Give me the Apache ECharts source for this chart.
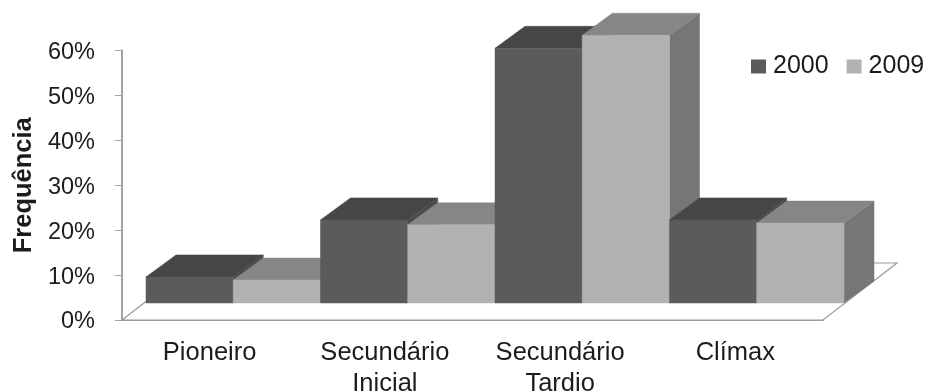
<!DOCTYPE html>
<html>
<head>
<meta charset="utf-8">
<style>html,body{margin:0;padding:0;background:#fff}#chart{width:928px;height:392px}</style>
<script src="https://cdn.jsdelivr.net/npm/echarts@6/dist/echarts.min.js"></script>
</head>
<body>
<div id="chart"></div>
<script>
// Frequency of successional groups, 2000 and 2009 (percent)
const categories = ['Pioneiro', 'Secundário\nInicial', 'Secundário\nTardio', 'Clímax'];
const values2000 = [5.8, 18.5, 56.7, 18.5];
const values2009 = [5.1, 17.4, 59.6, 17.8];
const years = ['2000', '2009'];

const FONT = '"Liberation Sans", Arial, sans-serif';
const TEXT = '#1c1c1c';
const AXIS = '#a3a3a3';

// Oblique projection of the 3D look: how far the bars sit behind the front
// edge of the floor, how deep they are, and how much the row narrows back there.
const INSET = [24, -17];
const DEPTH = [30, -22];
const FLOOR_DEPTH = [74, -57];
const ROW_SCALE = 698 / 701;

const palette = [
  { front: '#5b5b5b', top: '#464646', side: '#4b4b4b' },
  { front: '#b2b2b2', top: '#868686', side: '#767676' }
];

function quad(points, fill, z2) {
  return { type: 'polygon', z2, shape: { points }, style: { fill, stroke: fill, lineWidth: 0.5 } };
}

function barRenderer(seriesIndex) {
  return function (params, api) {
    const cat = api.value(0);
    const base = api.coord([cat, 0]);
    const head = api.coord([cat, api.value(1)]);
    const band = api.size([1, 0])[0];
    const left = params.coordSys.x;
    const w = band / 2 * ROW_SCALE;
    const x0 = left + INSET[0] + (base[0] - band / 2 - left) * ROW_SCALE + seriesIndex * w;
    const x1 = x0 + w;
    const yb = base[1] + INSET[1];
    const yt = head[1] + INSET[1];
    const c = palette[seriesIndex];
    // Painted left to right so nearer neighbours hide each other's side faces
    const z2 = 10 * cat + seriesIndex * 5;
    return {
      type: 'group',
      children: [
        quad([[x1, yb], [x1 + DEPTH[0], yb + DEPTH[1]], [x1 + DEPTH[0], yt + DEPTH[1]], [x1, yt]], c.side, z2),
        quad([[x0, yt], [x1, yt], [x1 + DEPTH[0], yt + DEPTH[1]], [x0 + DEPTH[0], yt + DEPTH[1]]], c.top, z2 + 1),
        quad([[x0, yb], [x1, yb], [x1, yt], [x0, yt]], c.front, z2 + 2)
      ]
    };
  };
}

function floorRenderer(params) {
  const g = params.coordSys;
  const y = g.y + g.height;
  const [dx, dy] = FLOOR_DEPTH;
  return {
    type: 'polygon',
    shape: { points: [[g.x, y], [g.x + g.width, y], [g.x + g.width + dx, y + dy], [g.x + dx, y + dy]] },
    style: { fill: '#ffffff', stroke: '#9a9a9a', lineWidth: 1.2 }
  };
}

const chart = echarts.init(document.getElementById('chart'), null, { renderer: 'canvas' });
chart.setOption({
  animation: false,
  backgroundColor: '#ffffff',
  textStyle: { fontFamily: FONT },
  grid: { left: 122, top: 50.5, width: 701, height: 269.5, containLabel: false, outerBoundsMode: 'none' },
  legend: {
    left: 746, top: 49,
    width: 200,
    padding: [5, 0, 5, 5],
    itemWidth: 15, itemHeight: 14, itemGap: 18,
    icon: 'rect',
    data: years,
    textStyle: { fontFamily: FONT, fontSize: 25, color: TEXT, padding: [0, 0, 0, 2] },
    selectedMode: false
  },
  xAxis: {
    type: 'category',
    data: categories,
    axisLine: { show: true, lineStyle: { color: AXIS, width: 2 } },
    axisTick: { show: false },
    axisLabel: { fontFamily: FONT, fontSize: 25.5, color: TEXT, lineHeight: 31, margin: 17, interval: 0 }
  },
  yAxis: {
    type: 'value',
    min: 0, max: 60, interval: 10,
    name: 'Frequência',
    nameLocation: 'middle',
    nameGap: 84,
    nameTextStyle: { fontFamily: FONT, fontWeight: 'bold', fontSize: 25.5, color: TEXT },
    axisLine: { show: true, lineStyle: { color: AXIS, width: 2 } },
    axisTick: { show: true, length: 7, lineStyle: { color: AXIS, width: 1 } },
    splitLine: { show: false },
    axisLabel: { fontFamily: FONT, fontSize: 23.5, color: TEXT, margin: 27, verticalAlign: 'top', lineHeight: 4, formatter: '{value}%' }
  },
  series: [
    { type: 'custom', name: 'floor', z: 1, silent: true, clip: false, renderItem: floorRenderer, data: [[0, 0]], encode: { x: 0, y: 1 } },
    { type: 'custom', name: years[0], z: 2, clip: false, itemStyle: { color: palette[0].front }, renderItem: barRenderer(0),
      data: values2000.map((v, i) => [i, v]), encode: { x: 0, y: 1 } },
    { type: 'custom', name: years[1], z: 2, clip: false, itemStyle: { color: palette[1].front }, renderItem: barRenderer(1),
      data: values2009.map((v, i) => [i, v]), encode: { x: 0, y: 1 } }
  ]
});
</script>
</body>
</html>
